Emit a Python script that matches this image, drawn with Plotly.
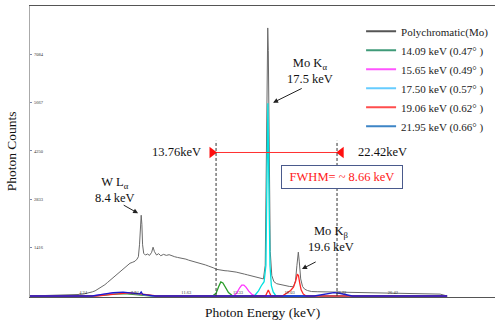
import plotly.graph_objects as go

# ---------------- data ----------------
poly_kev = [0.44, 1.0, 2.0, 3.0, 3.5, 4.0, 4.3, 4.6, 4.9, 5.1, 5.35, 5.6, 5.8, 6.0, 6.2, 6.5, 6.7, 6.9,
            7.1, 7.25, 7.4, 7.6, 7.8, 7.96, 8.1, 8.2, 8.28, 8.35, 8.4, 8.45, 8.5, 8.58, 8.7, 8.85, 9.0,
            9.15, 9.25, 9.35, 9.5, 9.65, 9.8, 10.0, 10.2, 10.4, 10.6, 10.8, 11.0, 11.2, 11.4, 11.6,
            11.8, 12.0, 12.2, 12.4, 12.6, 12.8, 13.0, 13.2, 13.4, 13.6, 13.8, 14.0, 14.2, 14.4, 14.6,
            14.8, 15.0, 15.2, 15.4, 15.6, 15.8, 16.0, 16.2, 16.4, 16.6, 16.8, 17.0, 17.15, 17.28,
            17.36, 17.42, 17.46, 17.5, 17.56, 17.64, 17.75, 17.9, 18.1, 18.4, 18.7, 19.0, 19.3,
            19.45, 19.55, 19.65, 19.72, 19.82, 19.95, 20.1, 20.3, 20.6, 21.0, 21.5, 22.0, 22.5,
            23.0, 24.0, 25.0, 26.0, 27.0, 28.0, 29.0, 29.8, 30.3]
poly_counts = [0, 5, 10, 20, 30, 45, 60, 80, 120, 150, 210, 260, 330, 400, 470, 580, 640, 720,
               780, 850, 880, 960, 990, 1020, 1080, 1150, 1500, 2200, 2366, 2100, 1500, 1250, 1200,
               1230, 1190, 1280, 1430, 1300, 1200, 1240, 1180, 1220, 1190, 1210, 1170, 1150, 1130,
               1120, 1090, 1080, 1050, 1030, 1000, 970, 950, 930, 910, 880, 860, 820, 780, 760,
               750, 740, 735, 730, 720, 700, 680, 650, 640, 620, 600, 590, 570, 540, 520, 500, 900,
               3500, 7000, 7857, 7200, 4000, 1300, 600, 420, 360, 330, 300, 280, 270,
               450, 900, 1285, 1000, 500, 280, 200, 160, 130, 125, 120, 120, 115,
               110, 100, 95, 85, 80, 70, 65, 55, 0]

green_kev = [0.44, 4.8, 5.5, 6.2, 6.8, 7.4, 8.0, 8.6, 9.2, 13.5, 13.76, 13.95, 14.1, 14.25, 14.45,
             14.65, 14.9, 15.2, 30.3]
green_counts = [0, 0, 20, 50, 70, 60, 40, 15, 0, 0, 80, 280, 410, 380, 250, 100, 20, 0, 0]

magenta_kev = [0.44, 4.9, 5.6, 6.3, 7.0, 7.6, 8.2, 8.8, 9.3, 15.0, 15.25, 15.45, 15.6, 15.75, 15.9,
               16.1, 16.35, 16.6, 30.3]
magenta_counts = [0, 0, 40, 80, 95, 85, 60, 25, 0, 0, 90, 240, 320, 320, 260, 140, 40, 0, 0]

cyan_kev = [0.44, 5.0, 5.8, 6.6, 7.3, 8.0, 8.7, 9.3, 16.5, 16.8, 17.0, 17.2, 17.33, 17.4, 17.47,
            17.54, 17.62, 17.72, 17.85, 18.05, 30.3]
cyan_counts = [0, 0, 30, 70, 90, 75, 40, 0, 0, 150, 300, 420, 900, 3200, 5650, 3300, 900, 300,
               120, 0, 0]

red_kev = [0.44, 5.2, 6.0, 6.8, 7.5, 8.2, 8.9, 9.5, 17.3, 17.42, 17.5, 17.58, 17.7, 18.5, 18.8,
           19.1, 19.3, 19.45, 19.58, 19.66, 19.75, 19.85, 20.0, 20.2, 30.3]
red_counts = [0, 0, 35, 75, 90, 70, 35, 0, 0, 100, 175, 100, 0, 0, 80, 160, 260, 420, 640, 600,
              380, 180, 60, 0, 0]

blue_kev = [0.44, 4.9, 5.6, 6.4, 7.1, 7.8, 8.3, 8.4, 8.5, 9.0, 9.4, 20.8, 21.3, 21.8, 22.2, 22.6,
            23.0, 23.5, 30.3]
blue_counts = [0, 0, 50, 100, 110, 90, 60, 120, 50, 20, 0, 0, 40, 90, 100, 80, 40, 0, 0]

series_names = ["Polychromatic(Mo)", "14.09 keV (0.47° )", "15.65 keV (0.49° )",
                "17.50 keV (0.57° )", "19.06 keV (0.62° )", "21.95 keV (0.66° )"]

x_tick_vals = [4.24, 7.94, 11.63, 15.33, 19.03, 22.72, 26.42]
x_tick_text = ["4.24", "7.94", "11.63", "15.33", "19.03", "22.72", "26.42"]
y_tick_vals = [1416, 2833, 4250, 5667, 7084]
y_tick_text = ["1416", "2833", "4250", "5667", "7084"]

fwhm_low = 13.76
fwhm_high = 22.42
fwhm_level = 4206

# ---------------- styles ----------------
FONT = "Liberation Serif"
plot_colors = ["#6a6a6a", "#2a9d2a", "#ff33ff", "#00e0e0", "#ff2626", "#1a1acf"]
legend_colors = ["#555555", "#3f9a78", "#ff55ff", "#66ccff", "#ff4d4d", "#3d85c6"]
widths = [1, 1.3, 1.3, 1.3, 1.3, 1.3]

fig = go.Figure()
all_x = [poly_kev, green_kev, magenta_kev, cyan_kev, red_kev, blue_kev]
all_y = [poly_counts, green_counts, magenta_counts, cyan_counts, red_counts, blue_counts]
for xs, ys, c, w in zip(all_x, all_y, plot_colors, widths):
    fig.add_trace(go.Scatter(x=xs, y=ys, mode="lines", line=dict(color=c, width=w),
                             showlegend=False, hoverinfo="skip"))
for name, c in zip(series_names, legend_colors):
    fig.add_trace(go.Scatter(x=[None], y=[None], mode="lines", name=name,
                             line=dict(color=c, width=2)))

# FWHM markers
fig.add_trace(go.Scatter(x=[fwhm_low, fwhm_high], y=[fwhm_level, fwhm_level], mode="lines",
                         line=dict(color="#ff3030", width=1), showlegend=False, hoverinfo="skip"))
fig.add_trace(go.Scatter(x=[fwhm_low - 0.29, fwhm_high + 0.3], y=[fwhm_level, fwhm_level],
                         mode="markers",
                         marker=dict(symbol=["triangle-right", "triangle-left"], size=10,
                                     color="#ff1010", line=dict(width=0)),
                         showlegend=False, hoverinfo="skip"))

for xv in [fwhm_low, fwhm_high]:
    fig.add_shape(type="line", x0=xv, x1=xv, y0=0, y1=4550, xref="x", yref="y",
                  line=dict(color="#333333", width=1, dash="3px,2px"))

ann_font = dict(family=FONT, size=12.5, color="#111111")
anns = [
    dict(x=6.53, y=3096, text="W L<sub>α</sub><br>8.4 keV", showarrow=False, font=ann_font),
    dict(x=20.5, y=6601, text="Mo K<sub>α</sub><br>17.5 keV", showarrow=False, font=ann_font),
    dict(x=22.0, y=1665, text="Mo K<sub>β</sub><br>19.6 keV", showarrow=False, font=ann_font),
    dict(x=10.9, y=fwhm_level, text="13.76keV", showarrow=False, font=ann_font),
    dict(x=25.65, y=fwhm_level, text="22.42keV", showarrow=False, font=ann_font),
    dict(x=22.81, y=3476, text="FWHM= ~ 8.66 keV", showarrow=False,
         font=dict(family=FONT, size=12.5, color="#ff2020"), bgcolor="white",
         bordercolor="#4a5a8c", borderwidth=1, borderpad=4, width=112),
]
for (hx, hy, tx, ty) in [(8.18, 2424, 7.04, 2687), (17.84, 5667, 20.0, 6105),
                         (19.91, 789, 21.0, 1022)]:
    anns.append(dict(x=hx, y=hy, ax=tx, ay=ty, axref="x", ayref="y", text="",
                     showarrow=True, arrowhead=2, arrowsize=1, arrowwidth=1,
                     arrowcolor="#222222"))
anns.append(dict(xref="paper", yref="paper", x=0.5, y=-0.022, yanchor="top",
                 text="Photon Energy (keV)", showarrow=False,
                 font=dict(family=FONT, size=13.5, color="#111111")))
anns.append(dict(xref="paper", yref="paper", x=-0.039, y=0.5, xanchor="center",
                 text="Photon Counts", textangle=-90, showarrow=False,
                 font=dict(family=FONT, size=13.5, color="#111111")))

fig.update_layout(
    width=495, height=323,
    margin=dict(l=30, r=0, t=6, b=26),
    paper_bgcolor="white", plot_bgcolor="white",
    font=dict(family=FONT, size=11, color="#222222"),
    annotations=anns,
    showlegend=True,
    legend=dict(x=0.712, xanchor="left", y=0.963, yanchor="top",
                font=dict(family=FONT, size=11, color="#222222"),
                bgcolor="rgba(0,0,0,0)", itemwidth=30, tracegroupgap=0),
    xaxis=dict(range=[0.44, 33.73], showgrid=False, zeroline=False,
               showline=True, linecolor="#555555", linewidth=1, mirror=True,
               tickvals=x_tick_vals, ticktext=x_tick_text, ticks="",
               ticklabelposition="inside", tickfont=dict(family=FONT, size=4.5, color="#333333")),
    yaxis=dict(range=[-30, 8500], showgrid=False, zeroline=False,
               showline=True, linecolor="#aaaaaa", linewidth=1,
               tickvals=y_tick_vals, ticktext=y_tick_text, ticks="inside", ticklen=2,
               tickcolor="#7a8ab0",
               ticklabelposition="inside", tickfont=dict(family=FONT, size=4.5, color="#333333")),
)

fig.write_html("out.html", config={"displayModeBar": False},
               post_script="document.body.style.margin='0';document.body.style.overflow='hidden';")
